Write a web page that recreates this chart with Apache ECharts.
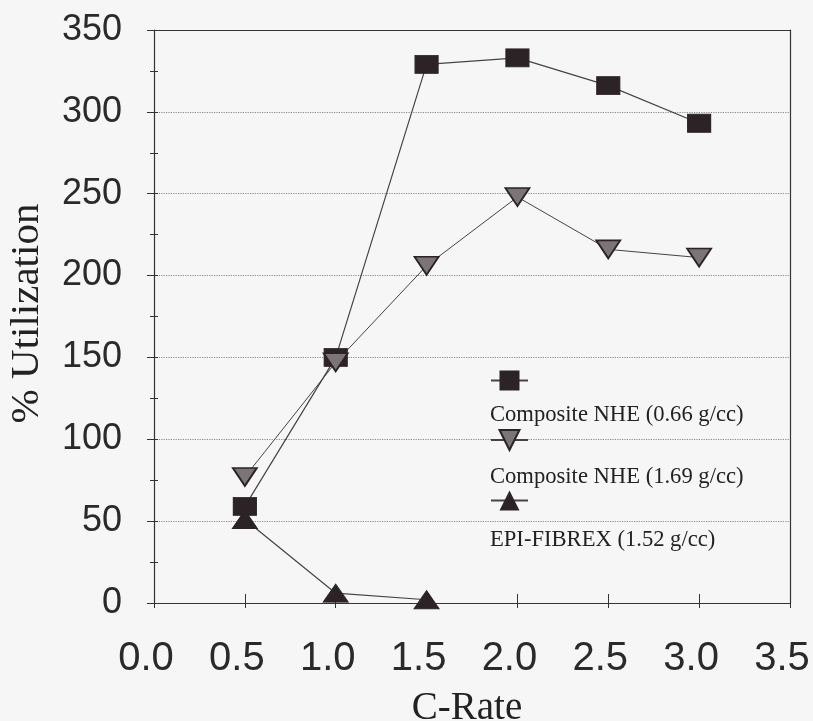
<!DOCTYPE html>
<html>
<head>
<meta charset="utf-8">
<script src="https://cdn.jsdelivr.net/npm/echarts@6/dist/echarts.min.js"></script>
<style>
html,body{margin:0;padding:0;background:#f6f6f6;}
#c{width:813px;height:721px;}
</style>
</head>
<body>
<div id="c"></div>
<script>
const cRate = [0.5, 1.0, 1.5, 2.0, 2.5, 3.0];
const nhe066 = [59, 150, 329, 333, 316, 293];
const nhe169 = [77, 147, 206, 248, 216, 211];
const fibrexRate = [0.5, 1.0, 1.5];
const fibrex = [51, 6, 2];
const seriesNames = ['Composite NHE (0.66 g/cc)', 'Composite NHE (1.69 g/cc)', 'EPI-FIBREX (1.52 g/cc)'];
const xTicks = ['0.0','0.5','1.0','1.5','2.0','2.5','3.0','3.5'];

const pairs = (xs, ys) => xs.map((x, i) => [x, ys[i]]);
const ink = '#2b2326';
const lineCol = '#444';

const chart = echarts.init(document.getElementById('c'));
const xBase = {type:'value', min:0, max:3.5, interval:0.5, gridIndex:0};
const yBase = {type:'value', min:0, max:350, interval:50, gridIndex:0};
chart.setOption({
  backgroundColor:'#f6f6f6',
  animation:false,
  grid:{left:154, right:23, top:30, bottom:118, containLabel:false, outerBoundsMode:'none'},
  xAxis:[
    Object.assign({}, xBase, {
      position:'bottom',
      name:'C-Rate', nameLocation:'middle', nameGap:86,
      nameTextStyle:{fontFamily:'Liberation Serif', fontSize:39, color:'#222', padding:[0,10,0,0]},
      axisLine:{show:true, onZero:false, lineStyle:{color:'#333', width:1.2}},
      axisTick:{show:true, inside:false, length:5, lineStyle:{color:'#333'}},
      axisLabel:{fontFamily:'Liberation Sans', fontSize:40, color:'#2a2a2a', margin:36, padding:[0,16,0,0],
        formatter:(v)=>xTicks[Math.round(v/0.5)]},
      splitLine:{show:false}
    }),
    Object.assign({}, xBase, {
      position:'bottom',
      axisLine:{show:false, onZero:false},
      axisTick:{show:true, inside:true, length:9, lineStyle:{color:'#333'}},
      axisLabel:{show:false}, splitLine:{show:false}
    }),
    Object.assign({}, xBase, {
      position:'top',
      axisLine:{show:true, onZero:false, lineStyle:{color:'#333', width:1.2}},
      axisTick:{show:false}, axisLabel:{show:false}, splitLine:{show:false}
    })
  ],
  yAxis:[
    Object.assign({}, yBase, {
      position:'left',
      name:'% Utilization', nameLocation:'middle', nameGap:106,
      nameTextStyle:{fontFamily:'Liberation Serif', fontSize:41, color:'#222', padding:[0,0,0,6]},
      axisLine:{show:true, onZero:false, lineStyle:{color:'#333', width:1.2}},
      axisTick:{show:true, inside:false, length:7, lineStyle:{color:'#333'}},
      minorTick:{show:true, splitNumber:2, length:4, lineStyle:{color:'#333'}},
      axisLabel:{fontFamily:'Liberation Sans', fontSize:36, color:'#2a2a2a', margin:32},
      splitLine:{show:true, lineStyle:{type:'dotted', color:'#8a8a8a', width:1.2}}
    }),
    Object.assign({}, yBase, {
      position:'left', offset:0,
      axisLine:{show:false, onZero:false},
      axisTick:{show:true, inside:true, length:4, lineStyle:{color:'#333'}},
      minorTick:{show:true, splitNumber:2, length:4, lineStyle:{color:'#333'}},
      axisLabel:{show:false}, splitLine:{show:false}
    }),
    Object.assign({}, yBase, {
      position:'right',
      axisLine:{show:true, onZero:false, lineStyle:{color:'#333', width:1.2}},
      axisTick:{show:false}, axisLabel:{show:false}, splitLine:{show:false}
    })
  ],
  legend:{
    orient:'vertical', left:490, top:368, padding:0,
    itemWidth:37, itemHeight:25, itemGap:37,
    formatter:()=>'', textStyle:{fontSize:1},
    data:seriesNames
  },
  graphic:[
    {type:'text', left:490, top:404, style:{text:seriesNames[0], font:'22.6px "Liberation Serif"', fill:'#222'}},
    {type:'text', left:490, top:466, style:{text:seriesNames[1], font:'22.6px "Liberation Serif"', fill:'#222'}},
    {type:'text', left:490, top:529, style:{text:seriesNames[2], font:'22.6px "Liberation Serif"', fill:'#222'}}
  ],
  series:[
    {name:seriesNames[0], type:'line', data:pairs(cRate, nhe066),
     symbol:'rect', symbolSize:[23,18],
     lineStyle:{color:lineCol, width:1.2}, itemStyle:{color:ink, borderColor:ink}},
    {name:seriesNames[1], type:'line', data:pairs(cRate, nhe169),
     symbol:'triangle', symbolRotate:180, symbolSize:[24,18],
     lineStyle:{color:lineCol, width:1.0}, itemStyle:{color:'#7b7577', borderColor:ink, borderWidth:1.8}},
    {name:seriesNames[2], type:'line', data:pairs(fibrexRate, fibrex),
     symbol:'triangle', symbolSize:[25,18],
     lineStyle:{color:lineCol, width:1.2}, itemStyle:{color:ink, borderColor:ink}}
  ]
});
</script>
</body>
</html>
